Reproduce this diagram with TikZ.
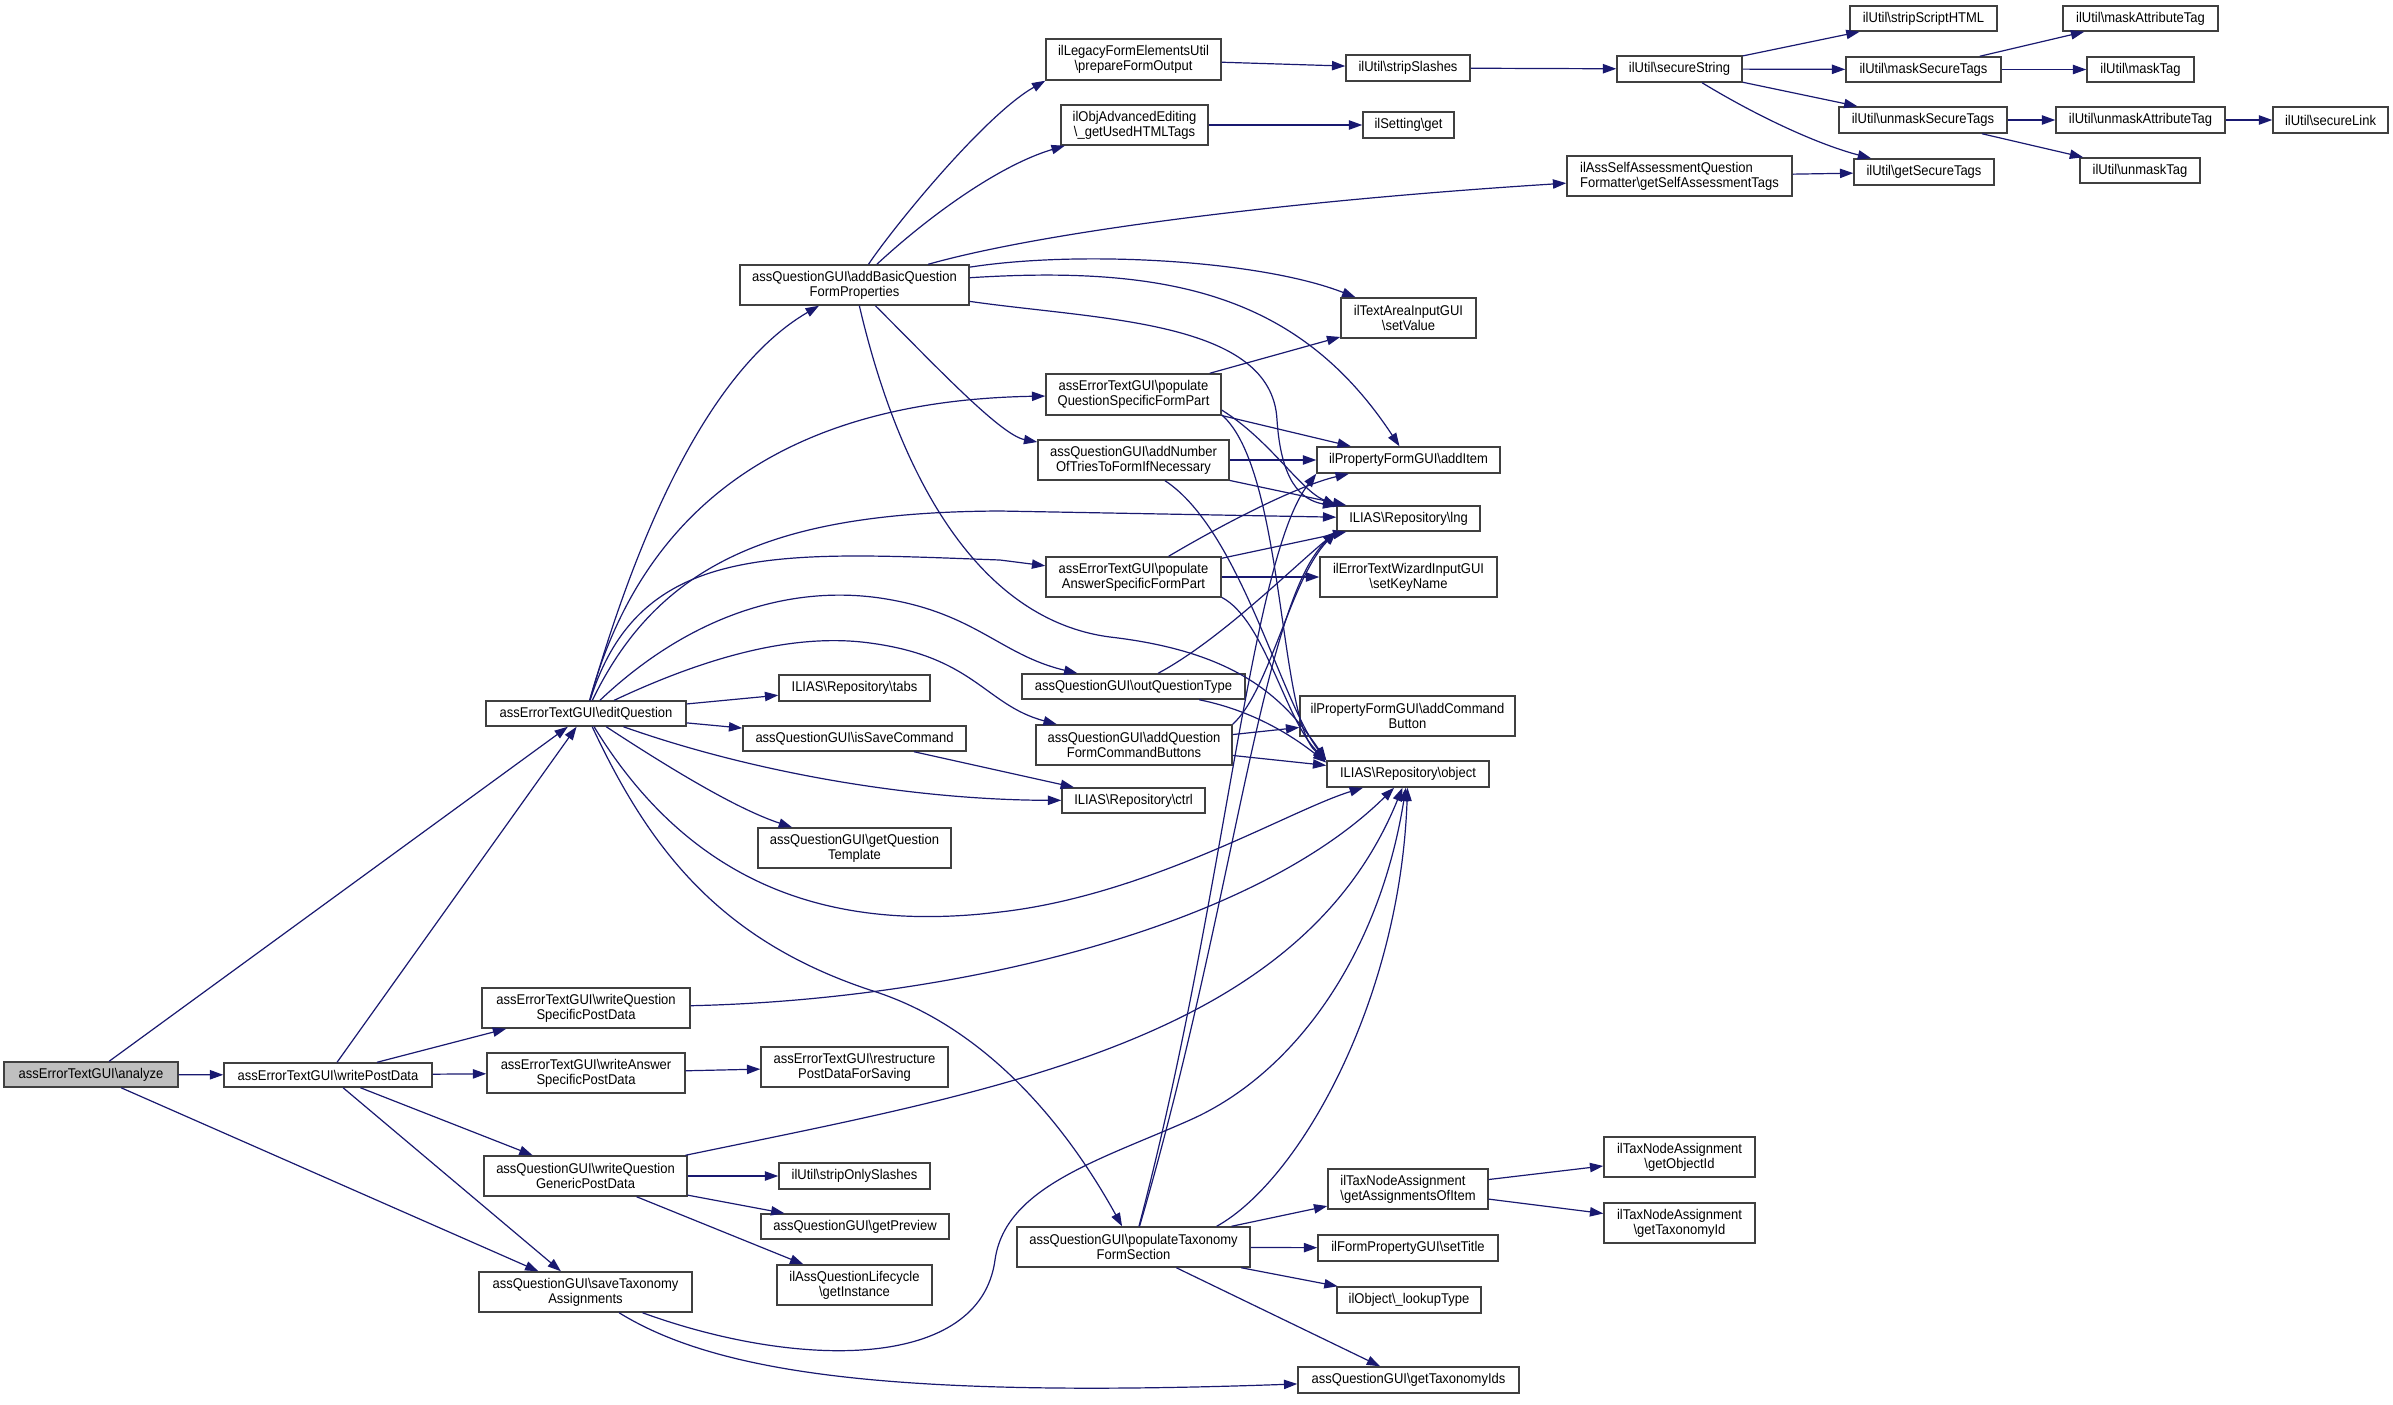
\documentclass[tikz,border=0pt]{standalone}
\usepackage{fontspec}
\setmainfont{Liberation Sans}[FakeStretch=0.92]
\usetikzlibrary{arrows.meta}

\definecolor{edgeblue}{HTML}{191970}
\definecolor{rootgrey}{HTML}{BFBFBF}
\definecolor{framegrey}{HTML}{404040}
\newcommand{\bsl}{\textbackslash}

\tikzset{
  fn/.style={draw=framegrey, line width=1.1pt, fill=white, inner sep=1pt, align=center,
    font=\fontsize{10.6pt}{11.4pt}\selectfont},
  sz/.style 2 args={minimum width=#1*0.75pt, minimum height=#2*0.75pt},
  calls/.style={draw=edgeblue, line width=0.9pt, -{Triangle[length=10pt,width=7pt]}}
}

\begin{document}
\begin{tikzpicture}[x=0.75pt,y=-0.75pt]
\fill[white] (0,0) rectangle (2393,1404);
\useasboundingbox (0,0) rectangle (2393,1404);

% Caller column
\node[fn, sz={174}{25}, fill=rootgrey] (analyze) at (91,1074.5) {assErrorTextGUI\bsl{}analyze};
\node[fn, sz={208}{24}] (writePostData) at (328,1075) {assErrorTextGUI\bsl{}writePostData};

% Third column
\node[fn, sz={200}{25}] (editQuestion) at (586,713.5) {assErrorTextGUI\bsl{}editQuestion};
\node[fn, sz={208}{40}] (wqSpecific) at (586,1008) {assErrorTextGUI\bsl{}writeQuestion\\SpecificPostData};
\node[fn, sz={198}{40}] (waSpecific) at (586,1073) {assErrorTextGUI\bsl{}writeAnswer\\SpecificPostData};
\node[fn, sz={203}{40}] (wqGeneric) at (585.5,1176) {assQuestionGUI\bsl{}writeQuestion\\GenericPostData};
\node[fn, sz={213}{40}] (saveTax) at (585.5,1292) {assQuestionGUI\bsl{}saveTaxonomy\\Assignments};

% Fourth column
\node[fn, sz={229}{40}] (addBasic) at (854.5,285) {assQuestionGUI\bsl{}addBasicQuestion\\FormProperties};
\node[fn, sz={151}{26}] (tabs) at (854.5,688) {ILIAS\bsl{}Repository\bsl{}tabs};
\node[fn, sz={223}{25}] (isSave) at (854.5,738.5) {assQuestionGUI\bsl{}isSaveCommand};
\node[fn, sz={193}{40}] (getQTemplate) at (854.5,848) {assQuestionGUI\bsl{}getQuestion\\Template};
\node[fn, sz={187}{40}] (restructure) at (854.5,1067) {assErrorTextGUI\bsl{}restructure\\PostDataForSaving};
\node[fn, sz={151}{26}] (stripOnly) at (854.5,1176) {ilUtil\bsl{}stripOnlySlashes};
\node[fn, sz={188}{25}] (getPreview) at (855,1226.5) {assQuestionGUI\bsl{}getPreview};
\node[fn, sz={155}{40}] (getInstance) at (854.5,1285) {ilAssQuestionLifecycle\\\bsl{}getInstance};

% Fifth column
\node[fn, sz={175}{41}] (prepareForm) at (1133.5,59.5) {ilLegacyFormElementsUtil\\\bsl{}prepareFormOutput};
\node[fn, sz={147}{40}] (usedHTML) at (1134.5,125) {ilObjAdvancedEditing\\\bsl{}\_getUsedHTMLTags};
\node[fn, sz={175}{41}] (populateQS) at (1133.5,394.5) {assErrorTextGUI\bsl{}populate\\QuestionSpecificFormPart};
\node[fn, sz={191}{40}] (addNumber) at (1133.5,460) {assQuestionGUI\bsl{}addNumber\\OfTriesToFormIfNecessary};
\node[fn, sz={175}{40}] (populateAS) at (1133.5,577) {assErrorTextGUI\bsl{}populate\\AnswerSpecificFormPart};
\node[fn, sz={223}{25}] (outQType) at (1133.5,686.5) {assQuestionGUI\bsl{}outQuestionType};
\node[fn, sz={196}{40}] (addQFCB) at (1134,745) {assQuestionGUI\bsl{}addQuestion\\FormCommandButtons};
\node[fn, sz={143}{25}] (ctrl) at (1133.5,800.5) {ILIAS\bsl{}Repository\bsl{}ctrl};
\node[fn, sz={233}{40}] (popTax) at (1133.5,1247) {assQuestionGUI\bsl{}populateTaxonomy\\FormSection};

% Sixth column
\node[fn, sz={124}{26}] (stripSlashes) at (1408,68) {ilUtil\bsl{}stripSlashes};
\node[fn, sz={91}{26}] (settingGet) at (1408.5,125) {ilSetting\bsl{}get};
\node[fn, sz={135}{40}] (setValue) at (1408.5,318) {ilTextAreaInputGUI\\\bsl{}setValue};
\node[fn, sz={183}{26}] (addItem) at (1408.5,460) {ilPropertyFormGUI\bsl{}addItem};
\node[fn, sz={143}{25}] (lng) at (1408.5,518.5) {ILIAS\bsl{}Repository\bsl{}lng};
\node[fn, sz={177}{40}] (setKeyName) at (1408.5,577) {ilErrorTextWizardInputGUI\\\bsl{}setKeyName};
\node[fn, sz={215}{40}] (addCmdBtn) at (1407.5,716) {ilPropertyFormGUI\bsl{}addCommand\\Button};
\node[fn, sz={162}{26}] (object) at (1408,774) {ILIAS\bsl{}Repository\bsl{}object};
\node[fn, sz={160}{40}, align=left] (getAssign) at (1408,1189) {ilTaxNodeAssignment\\\bsl{}getAssignmentsOfItem};
\node[fn, sz={180}{26}] (setTitle) at (1408,1248) {ilFormPropertyGUI\bsl{}setTitle};
\node[fn, sz={144}{26}] (lookupType) at (1409,1300) {ilObject\bsl{}\_lookupType};
\node[fn, sz={221}{26}] (getTaxIds) at (1408.5,1380) {assQuestionGUI\bsl{}getTaxonomyIds};

% Seventh column
\node[fn, sz={125}{26}] (secureString) at (1679.5,69) {ilUtil\bsl{}secureString};
\node[fn, sz={225}{40}, align=left] (getSelfAssess) at (1679.5,176) {ilAssSelfAssessmentQuestion\\Formatter\bsl{}getSelfAssessmentTags};
\node[fn, sz={151}{40}] (getObjectId) at (1679.5,1157) {ilTaxNodeAssignment\\\bsl{}getObjectId};
\node[fn, sz={151}{40}] (getTaxonomyId) at (1679.5,1223) {ilTaxNodeAssignment\\\bsl{}getTaxonomyId};

% Right columns
\node[fn, sz={147}{25}] (stripScriptHTML) at (1923.5,18.5) {ilUtil\bsl{}stripScriptHTML};
\node[fn, sz={155}{25}] (maskSecureTags) at (1923.5,69.5) {ilUtil\bsl{}maskSecureTags};
\node[fn, sz={168}{26}] (unmaskSecureTags) at (1923,120) {ilUtil\bsl{}unmaskSecureTags};
\node[fn, sz={140}{26}] (getSecureTags) at (1924,172) {ilUtil\bsl{}getSecureTags};
\node[fn, sz={155}{25}] (maskAttributeTag) at (2140.5,18.5) {ilUtil\bsl{}maskAttributeTag};
\node[fn, sz={107}{25}] (maskTag) at (2140.5,69.5) {ilUtil\bsl{}maskTag};
\node[fn, sz={169}{26}] (unmaskAttributeTag) at (2140.5,120) {ilUtil\bsl{}unmaskAttributeTag};
\node[fn, sz={120}{25}] (unmaskTag) at (2140,170.5) {ilUtil\bsl{}unmaskTag};
\node[fn, sz={115}{26}] (secureLink) at (2330.5,120) {ilUtil\bsl{}secureLink};

% Calls from analyze and writePostData
\draw[calls] (analyze) -- (writePostData);
\draw[calls] (analyze) -- (editQuestion);
\draw[calls] (analyze) -- (saveTax);
\draw[calls] (writePostData) -- (editQuestion);
\draw[calls] (writePostData) -- (wqSpecific);
\draw[calls] (writePostData) -- (waSpecific);
\draw[calls] (writePostData) -- (wqGeneric);
\draw[calls] (writePostData) -- (saveTax);

% Calls from the post data writers
\draw[calls] (wqSpecific) .. controls (950,1000) and (1250,930) .. (object);
\draw[calls] (waSpecific) -- (restructure);
\draw[calls] (wqGeneric) -- (stripOnly);
\draw[calls] (wqGeneric) -- (getPreview);
\draw[calls] (wqGeneric) -- (getInstance);
\draw[calls] (wqGeneric) .. controls (1000,1090) and (1300,1040) .. (object);
\draw[calls] (saveTax) .. controls (800,1370) and (980,1370) .. (995,1260)
  .. controls (1005,1187) and (1100,1160) .. (1190,1120)
  .. controls (1298,1072) and (1380,950) .. (object);
\draw[calls] (saveTax) .. controls (720,1375) and (900,1398) .. (getTaxIds);

% Calls from editQuestion
\draw[calls] (editQuestion) .. controls (630,560) and (700,375) .. (addBasic);
\draw[calls] (editQuestion) .. controls (650,480) and (820,400) .. (populateQS);
\draw[calls] (editQuestion) .. controls (660,560) and (780,512) .. (1000,511) -- (lng);
\draw[calls] (editQuestion) .. controls (640,540) and (780,552) .. (1000,560) -- (populateAS);
\draw[calls] (editQuestion) .. controls (690,615) and (790,585) .. (880,598)
  .. controls (975,612) and (1000,655) .. (outQType);
\draw[calls] (editQuestion) .. controls (700,660) and (790,632) .. (870,643)
  .. controls (975,657) and (985,705) .. (addQFCB);
\draw[calls] (editQuestion) -- (tabs);
\draw[calls] (editQuestion) -- (isSave);
\draw[calls] (editQuestion) .. controls (760,775) and (920,800) .. (ctrl);
\draw[calls] (isSave) -- (ctrl);
\draw[calls] (editQuestion) .. controls (680,775) and (740,810) .. (getQTemplate);
\draw[calls] (editQuestion) .. controls (700,900) and (850,930) .. (1000,912)
  .. controls (1150,895) and (1290,810) .. (object);
\draw[calls] (editQuestion) .. controls (650,850) and (720,940) .. (870,990)
  .. controls (1000,1030) and (1080,1150) .. (popTax);

% Calls from addBasic
\draw[calls] (addBasic) .. controls (895,225) and (985,115) .. (prepareForm.south west);
\draw[calls] (addBasic) .. controls (930,215) and (1000,165) .. (usedHTML);
\draw[calls] (addBasic) .. controls (1050,230) and (1300,200) .. (getSelfAssess);
\draw[calls] (addBasic) .. controls (1080,250) and (1260,260) .. (setValue);
\draw[calls] (addBasic) .. controls (1170,265) and (1300,295) .. (addItem);
\draw[calls] (addBasic) .. controls (1100,320) and (1272,320) .. (1277,420)
  .. controls (1281,480) and (1300,500) .. (lng);
\draw[calls] (addBasic) .. controls (930,360) and (1000,435) .. (addNumber);
\draw[calls] (addBasic) .. controls (900,480) and (980,620) .. (1110,637)
  .. controls (1240,652) and (1285,700) .. (object.north west);

% String helpers
\draw[calls] (prepareForm) -- (stripSlashes);
\draw[calls] (usedHTML) -- (settingGet);
\draw[calls] (getSelfAssess) -- (getSecureTags);
\draw[calls] (stripSlashes) -- (secureString);
\draw[calls] (secureString) -- (stripScriptHTML);
\draw[calls] (secureString) -- (maskSecureTags);
\draw[calls] (secureString) -- (unmaskSecureTags);
\draw[calls] (secureString) .. controls (1760,118) and (1820,145) .. (getSecureTags);
\draw[calls] (maskSecureTags) -- (maskAttributeTag);
\draw[calls] (maskSecureTags) -- (maskTag);
\draw[calls] (unmaskSecureTags) -- (unmaskAttributeTag);
\draw[calls] (unmaskSecureTags) -- (unmaskTag);
\draw[calls] (unmaskAttributeTag) -- (secureLink);

% Form part builders
\draw[calls] (populateQS) -- (setValue);
\draw[calls] (populateQS) -- (addItem);
\draw[calls] (populateQS.-10) .. controls (1270,440) and (1300,490) .. (lng.north west);
\draw[calls] (populateQS.-13) .. controls (1285,470) and (1278,720) .. (object.north west);
\draw[calls] (addNumber) -- (addItem);
\draw[calls] (addNumber) -- (lng);
\draw[calls] (addNumber) .. controls (1240,530) and (1280,700) .. (object.north west);
\draw[calls] (populateAS) .. controls (1230,520) and (1300,485) .. (addItem);
\draw[calls] (populateAS) -- (lng);
\draw[calls] (populateAS) -- (setKeyName);
\draw[calls] (populateAS.-13) .. controls (1265,620) and (1285,720) .. (object.north west);
\draw[calls] (outQType) .. controls (1220,640) and (1290,570) .. (lng.south west);
\draw[calls] (outQType) .. controls (1260,712) and (1300,742) .. (object.172);
\draw[calls] (addQFCB.north east) .. controls (1270,690) and (1290,580) .. (lng.south west);
\draw[calls] (addQFCB) -- (addCmdBtn);
\draw[calls] (addQFCB) -- (object);

% Taxonomy section
\draw[calls] (popTax) .. controls (1225,900) and (1250,560) .. (addItem.south west);
\draw[calls] (popTax) .. controls (1235,900) and (1262,600) .. (lng.south west);
\draw[calls] (popTax.14) .. controls (1300,1180) and (1400,1000) .. (object);
\draw[calls] (popTax) -- (getAssign);
\draw[calls] (popTax) -- (setTitle);
\draw[calls] (popTax) -- (lookupType);
\draw[calls] (popTax) -- (getTaxIds);
\draw[calls] (getAssign) -- (getObjectId);
\draw[calls] (getAssign) -- (getTaxonomyId);

\end{tikzpicture}
\end{document}
